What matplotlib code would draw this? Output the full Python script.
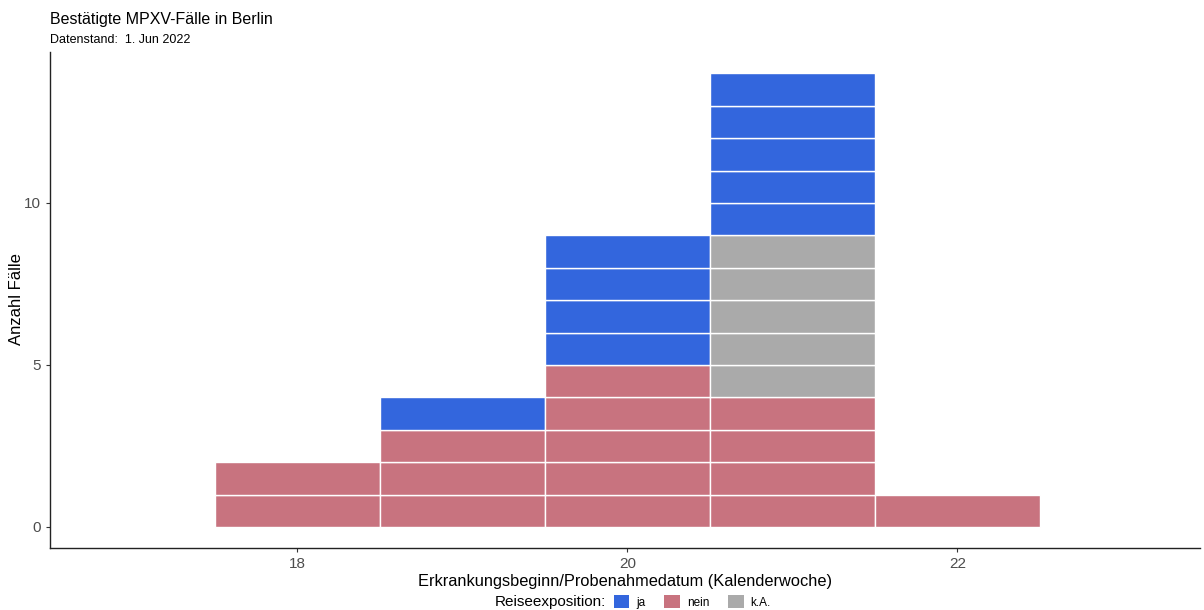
import matplotlib.pyplot as plt
from matplotlib.patches import Patch

plt.rcParams['font.family'] = ['Liberation Sans', 'DejaVu Sans']

# weekly case counts by travel exposure
weeks = [18, 19, 20, 21, 22]
nein = [2, 3, 5, 4, 1]
ka = [0, 0, 0, 5, 0]
ja = [0, 1, 4, 5, 0]

colors = {"ja": "#3366DD", "nein": "#C8737F", "k.A.": "#AAAAAA"}

fig = plt.figure(figsize=(12.04, 6.1), dpi=100)
ax = fig.add_axes([0.0415, 0.1016, 0.955, 0.8132])

# each case is its own unit block, stacked nein -> k.A. -> ja
for i, w in enumerate(weeks):
    bottom = 0
    for name, counts in [("nein", nein), ("k.A.", ka), ("ja", ja)]:
        for _ in range(counts[i]):
            ax.bar(w, 1, width=1, bottom=bottom, color=colors[name],
                   edgecolor="white", linewidth=1)
            bottom += 1

ax.set_xlim(16.5, 23.47)
ax.set_ylim(-0.65, 14.66)
ax.set_xticks([18, 20, 22])
ax.set_yticks([0, 5, 10])
ax.tick_params(labelcolor="#4D4D4D", labelsize=11, length=3, width=0.8, color="#333333")
for s in ["top", "right"]:
    ax.spines[s].set_visible(False)
for s in ["left", "bottom"]:
    ax.spines[s].set_color("#222222")
    ax.spines[s].set_linewidth(1)

ax.set_xlabel("Erkrankungsbeginn/Probenahmedatum (Kalenderwoche)", fontsize=11.8, labelpad=2)
fig.text(0.014, 0.51, "Anzahl Fälle", fontsize=12, rotation=90, ha="center", va="center")

fig.text(0.0415, 0.968, "Bestätigte MPXV-Fälle in Berlin", fontsize=11.5, va="center")
fig.text(0.0415, 0.934, "Datenstand:  1. Jun 2022", fontsize=9, va="center")

# legend along the bottom
fig.text(0.503, 0.013, "Reiseexposition:", fontsize=11, ha="right", va="center")
handles = [Patch(facecolor=colors[k], label=k) for k in ["ja", "nein", "k.A."]]
fig.legend(handles=handles, ncol=3, loc="center left", bbox_to_anchor=(0.51, 0.013),
           frameon=False, fontsize=8.5, handlelength=1.3, handleheight=1.3,
           handletextpad=0.6, columnspacing=1.6, borderaxespad=0, borderpad=0)

fig.savefig("out.png", dpi=100)
